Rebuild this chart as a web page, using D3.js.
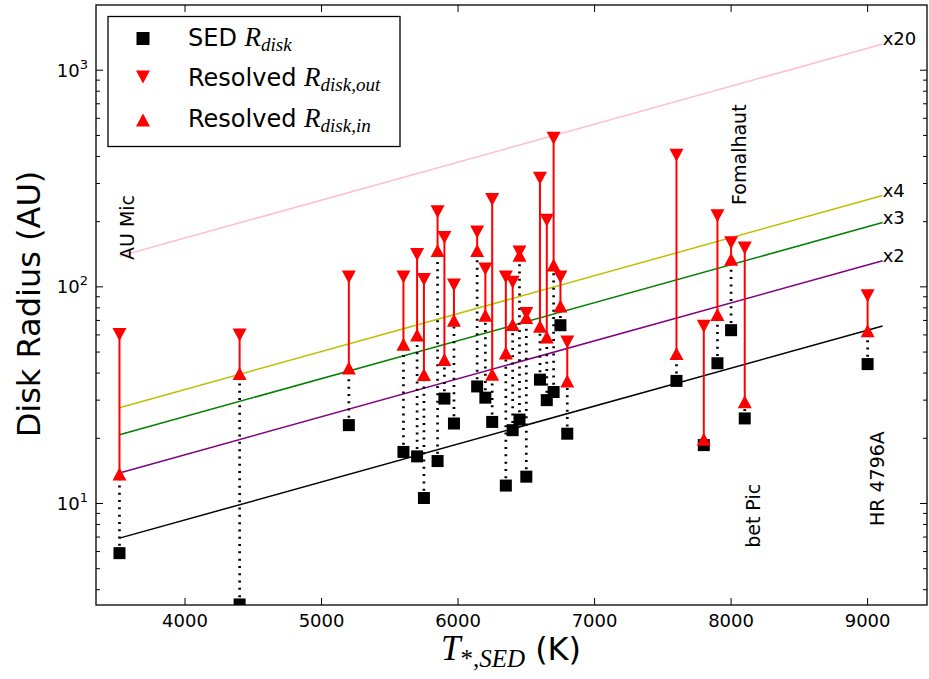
<!DOCTYPE html>
<html><head><meta charset="utf-8">
<script src="https://cdn.jsdelivr.net/npm/d3@7"></script>
<style>body{margin:0;background:#fff}</style>
</head><body>
<svg id="c" width="929" height="679"></svg>
<script>
// ---- data ----
const temps = [3520,4400,5200,5600,5700,5750,5850,5900,5970,6140,6200,6250,6350,6400,6450,6500,6600,6650,6700,6750,6800,7600,7800,7900,8000,8100,9000];
const sedR  = [5.9,3.42,23.0,17.3,16.5,10.6,15.7,30.5,23.4,34.7,30.8,23.8,12.1,21.8,24.4,13.3,37.3,30.0,32.7,66.5,21.0,36.8,18.6,44.4,63.1,24.7,44.0];
const rIn   = [13.7,39.8,42.2,54.4,59.9,39.4,147,46.2,70.2,147,74,39.5,49.5,67.1,140,72.2,65.8,58.7,126,81.5,36.8,49.2,19.8,74.5,134,29.5,62.7];
const rOut  = [60.3,59.9,111,111,141,108,222,169,102,179,121,253,111,105,145,75.3,317,203,485,111,55.7,405,65.8,213,160,151,90.9];

const refT = [3520, 9110];
const refBase = [6.92, 66];
const refMult = [1, 2, 3, 4, 20];
const refLabels = ["", "x2", "x3", "x4", "x20"];
const refColors = ["#000000", "#800080", "#008000", "#bfbf00", "#ffc0cb"];

const starNames = ["AU Mic", "Fomalhaut", "bet Pic", "HR 4796A"];
const starT = [3575, 8058, 8160, 9068];
const starR = [133, 239, 6.24, 7.87];

const xTicks = [4000, 5000, 6000, 7000, 8000, 9000];
const yMajor = [10, 100, 1000];
const yExp = ["1", "2", "3"];

// ---- layout ----
const L = 96, R = 927, Tp = 5, B = 605;
const svg = d3.select("#c");
const x = d3.scaleLinear().domain([3348, 9435]).range([L, R]);
const y = d3.scaleLog().domain([3.4, 2000]).range([B, Tp]);
const FONT = "DejaVu Sans";
const SERIF = "Liberation Serif";

svg.append("defs").append("clipPath").attr("id", "clip")
  .append("rect").attr("x", L).attr("y", Tp).attr("width", R - L).attr("height", B - Tp);

const plot = svg.append("g").attr("clip-path", "url(#clip)");

// reference lines
refMult.forEach((m, i) => {
  plot.append("path")
    .attr("d", d3.line()(refT.map((t, j) => [x(t), y(refBase[j] * m)])))
    .attr("stroke", refColors[i]).attr("stroke-width", 1.5).attr("fill", "none");
});

const idx = d3.range(temps.length);
// dotted SED -> inner
plot.selectAll(".dot").data(idx).enter().append("line")
  .attr("x1", i => x(temps[i])).attr("x2", i => x(temps[i]))
  .attr("y1", i => y(sedR[i])).attr("y2", i => y(rIn[i]))
  .attr("stroke", "#000").attr("stroke-width", 2.7).attr("stroke-dasharray", "2,5.3");
// red inner -> outer
plot.selectAll(".red").data(idx).enter().append("line")
  .attr("x1", i => x(temps[i])).attr("x2", i => x(temps[i]))
  .attr("y1", i => y(rIn[i])).attr("y2", i => y(rOut[i]))
  .attr("stroke", "#ff0000").attr("stroke-width", 2);

const downTri = "M-7,-6.5L7,-6.5L0,6.5Z";
const upTri = "M-7,6.5L7,6.5L0,-6.5Z";
// markers
plot.selectAll(".sq").data(idx).enter().append("rect")
  .attr("x", i => x(temps[i]) - 6).attr("y", i => y(sedR[i]) - 6)
  .attr("width", 12).attr("height", 12).attr("fill", "#000");
plot.selectAll(".dn").data(idx).enter().append("path")
  .attr("transform", i => `translate(${x(temps[i])},${y(rOut[i])})`)
  .attr("d", downTri).attr("fill", "#ff0000");
plot.selectAll(".up").data(idx).enter().append("path")
  .attr("transform", i => `translate(${x(temps[i])},${y(rIn[i])})`)
  .attr("d", upTri).attr("fill", "#ff0000");

// reference labels
refMult.forEach((m, i) => {
  if (!refLabels[i]) return;
  svg.append("text").attr("x", x(refT[1])).attr("y", y(refBase[1] * m) + 1)
    .attr("font-family", FONT).attr("font-size", 18).text(refLabels[i]);
});

// star labels
starNames.forEach((n, i) => {
  svg.append("text")
    .attr("transform", `translate(${x(starT[i])},${y(starR[i])}) rotate(-90)`)
    .attr("dominant-baseline", "central")
    .attr("font-family", FONT).attr("font-size", 19).text(n);
});

// frame
svg.append("rect").attr("x", L).attr("y", Tp).attr("width", R - L).attr("height", B - Tp)
  .attr("fill", "none").attr("stroke", "#000").attr("stroke-width", 1.3);

// x ticks
xTicks.forEach(t => {
  svg.append("line").attr("x1", x(t)).attr("x2", x(t)).attr("y1", B).attr("y2", B - 7).attr("stroke", "#000").attr("stroke-width", 1);
  svg.append("line").attr("x1", x(t)).attr("x2", x(t)).attr("y1", Tp).attr("y2", Tp + 7).attr("stroke", "#000").attr("stroke-width", 1);
  svg.append("text").attr("x", x(t)).attr("y", 627).attr("text-anchor", "middle")
    .attr("font-family", FONT).attr("font-size", 18).text(t);
});

// y ticks
const minors = [];
[1, 10, 100].forEach(d => { for (let k = 2; k <= 9; k++) { const v = d * k; if (v > 3.4 && v < 2000) minors.push(v); } });
minors.forEach(v => {
  svg.append("line").attr("x1", L).attr("x2", L + 4).attr("y1", y(v)).attr("y2", y(v)).attr("stroke", "#000");
  svg.append("line").attr("x1", R).attr("x2", R - 4).attr("y1", y(v)).attr("y2", y(v)).attr("stroke", "#000");
});
yMajor.forEach((v, i) => {
  svg.append("line").attr("x1", L).attr("x2", L + 7).attr("y1", y(v)).attr("y2", y(v)).attr("stroke", "#000");
  svg.append("line").attr("x1", R).attr("x2", R - 7).attr("y1", y(v)).attr("y2", y(v)).attr("stroke", "#000");
  const t = svg.append("text").attr("x", 88).attr("y", y(v) + 6.5).attr("text-anchor", "end")
    .attr("font-family", FONT).attr("font-size", 18);
  t.append("tspan").text("10");
  t.append("tspan").attr("font-size", 13).attr("dy", -8).text(yExp[i]);
});

// axis titles
svg.append("text").attr("transform", "translate(29,304) rotate(-90)")
  .attr("text-anchor", "middle").attr("dominant-baseline", "central")
  .attr("font-family", FONT).attr("font-size", 32).text("Disk Radius (AU)");

const xt = svg.append("text").attr("x", 511).attr("y", 660).attr("text-anchor", "middle")
  .attr("font-family", FONT).attr("font-size", 32);
xt.append("tspan").attr("font-family", SERIF).attr("font-style", "italic").attr("font-size", 35).text("T");
xt.append("tspan").attr("font-family", SERIF).attr("font-size", 25).attr("dy", 7).text("*,");
xt.append("tspan").attr("font-family", SERIF).attr("font-style", "italic").attr("font-size", 25).text("SED");
xt.append("tspan").attr("dy", -7).text(" (K)");

// legend
const lg = svg.append("g");
lg.append("rect").attr("x", 108).attr("y", 16.5).attr("width", 292).attr("height", 130)
  .attr("fill", "#fff").attr("stroke", "#000").attr("stroke-width", 1.3);
const legY = [38.5, 77, 120];
lg.append("rect").attr("x", 143 - 6.5).attr("y", legY[0] - 6.5).attr("width", 13).attr("height", 13).attr("fill", "#000");
lg.append("path").attr("transform", `translate(143,${legY[1]})`).attr("d", downTri).attr("fill", "#ff0000");
lg.append("path").attr("transform", `translate(143,${legY[2]})`).attr("d", upTri).attr("fill", "#ff0000");
const legMain = ["SED ", "Resolved ", "Resolved "];
const legSub = ["disk", "disk,out", "disk,in"];
const legBase = [46, 85.5, 127];
legMain.forEach((s, i) => {
  const t = lg.append("text").attr("x", 188).attr("y", legBase[i]).attr("font-family", FONT).attr("font-size", 24);
  t.append("tspan").text(s);
  t.append("tspan").attr("font-family", SERIF).attr("font-style", "italic").attr("font-size", 27).text("R");
  t.append("tspan").attr("font-family", SERIF).attr("font-style", "italic").attr("font-size", 19).attr("dy", 5).text(legSub[i]);
});
</script>
</body></html>
